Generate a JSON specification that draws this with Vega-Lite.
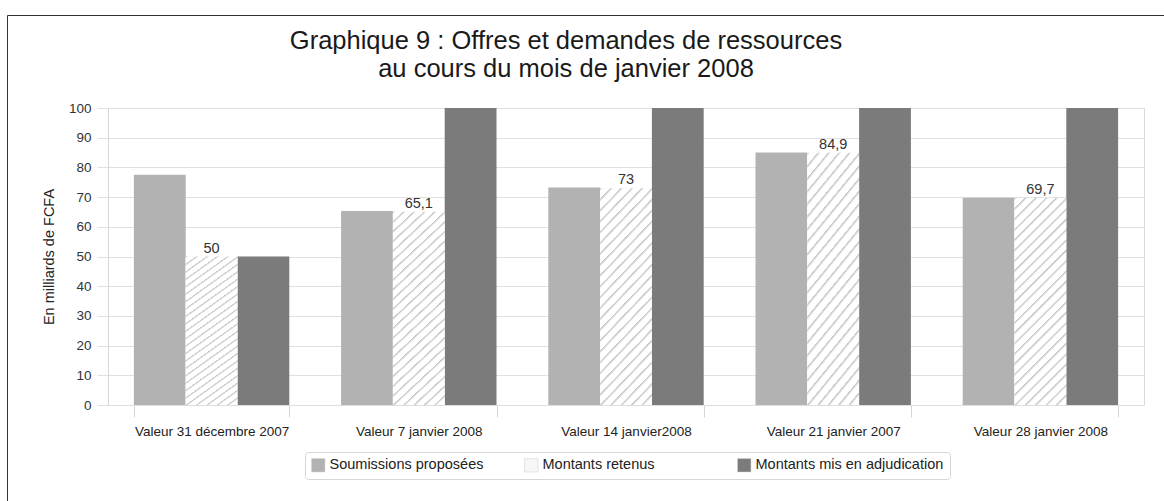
{
  "$schema": "https://vega.github.io/schema/vega-lite/v6.json",
  "width": 1036,
  "height": 297,
  "autosize": {"type": "none"},
  "padding": {"left": 108, "top": 108, "right": 20, "bottom": 96},
  "background": "white",
  "title": {
    "text": ["Graphique 9 : Offres et demandes de ressources", "au cours du mois de janvier 2008"],
    "fontSize": 25.5,
    "fontWeight": "normal",
    "font": "Liberation Sans",
    "color": "#1a1a1a",
    "anchor": "middle",
    "dx": -60,
    "dy": 86,
    "offset": 18,
    "lineHeight": 28
  },
  "data": {
    "values": [
      {"date": "Valeur 31 décembre 2007", "serie": "Soumissions proposées", "valeur": 77.5},
      {"date": "Valeur 31 décembre 2007", "serie": "Montants retenus", "valeur": 50},
      {"date": "Valeur 31 décembre 2007", "serie": "Montants mis en adjudication", "valeur": 50},
      {"date": "Valeur 7 janvier 2008", "serie": "Soumissions proposées", "valeur": 65.3},
      {"date": "Valeur 7 janvier 2008", "serie": "Montants retenus", "valeur": 65.1},
      {"date": "Valeur 7 janvier 2008", "serie": "Montants mis en adjudication", "valeur": 100},
      {"date": "Valeur 14 janvier2008", "serie": "Soumissions proposées", "valeur": 73.2},
      {"date": "Valeur 14 janvier2008", "serie": "Montants retenus", "valeur": 73},
      {"date": "Valeur 14 janvier2008", "serie": "Montants mis en adjudication", "valeur": 100},
      {"date": "Valeur 21 janvier 2007", "serie": "Soumissions proposées", "valeur": 85},
      {"date": "Valeur 21 janvier 2007", "serie": "Montants retenus", "valeur": 84.9},
      {"date": "Valeur 21 janvier 2007", "serie": "Montants mis en adjudication", "valeur": 100},
      {"date": "Valeur 28 janvier 2008", "serie": "Soumissions proposées", "valeur": 69.8},
      {"date": "Valeur 28 janvier 2008", "serie": "Montants retenus", "valeur": 69.7},
      {"date": "Valeur 28 janvier 2008", "serie": "Montants mis en adjudication", "valeur": 100}
    ]
  },
  "encoding": {
    "x": {
      "field": "date",
      "type": "nominal",
      "sort": null,
      "scale": {"paddingInner": 0.25, "paddingOuter": 0.125},
      "axis": {
        "title": null,
        "labelAngle": 0,
        "tickBand": "extent",
        "tickSize": 12,
        "tickColor": "#d6d6d6",
        "domainColor": "#dedede",
        "labelFontSize": 13.5,
        "labelPadding": 7,
        "labelColor": "#222"
      }
    },
    "xOffset": {
      "field": "serie",
      "type": "nominal",
      "sort": ["Soumissions proposées", "Montants retenus", "Montants mis en adjudication"],
      "scale": {"paddingInner": 0, "paddingOuter": 0}
    },
    "y": {
      "field": "valeur",
      "type": "quantitative",
      "scale": {"domain": [0, 100], "clamp": true},
      "axis": {
        "title": "En milliards de FCFA",
        "values": [0, 10, 20, 30, 40, 50, 60, 70, 80, 90, 100],
        "grid": true,
        "gridColor": "#e0e0e0",
        "tickColor": "#e0e0e0",
        "tickSize": 11,
        "domainColor": "#d6d6d6",
        "labelFontSize": 13.5,
        "labelColor": "#333",
        "labelPadding": 6,
        "titleFontSize": 14.5,
        "titleFontWeight": "normal",
        "titleColor": "#222",
        "titlePadding": 12
      }
    }
  },
  "layer": [
    {
      "mark": {"type": "bar"},
      "encoding": {
        "color": {
          "field": "serie",
          "type": "nominal",
          "sort": ["Soumissions proposées", "Montants retenus", "Montants mis en adjudication"],
          "scale": {
            "domain": ["Soumissions proposées", "Montants retenus", "Montants mis en adjudication"],
            "range": ["#b2b2b2", "#f7f7f7", "#7b7b7b"]
          },
          "legend": {
            "orient": "none",
            "legendX": 197,
            "legendY": 344,
            "direction": "horizontal",
            "columns": 3,
            "gridAlign": "all",
            "title": null,
            "symbolType": "square",
            "symbolSize": 180,
            "symbolStrokeColor": "#d0d0d0",
            "symbolStrokeWidth": 0.5,
            "labelFontSize": 14.5,
            "labelLimit": 400,
            "labelColor": "#222",
            "labelOffset": 4,
            "columnPadding": 5,
            "padding": 6,
            "strokeColor": "#d6d6d6",
            "fillColor": "white",
            "cornerRadius": 3
          }
        }
      }
    },
    {
      "transform": [{"filter": "datum.serie === 'Montants retenus'"}],
      "mark": {
        "type": "bar",
        "fill": {
          "gradient": "linear",
          "x1": 0, "y1": 0, "x2": 0.294, "y2": 1.176,
          "stops": [
            {"offset": 0, "color": "#c0c0c0"}, {"offset": 0.012, "color": "#ffffff"}, {"offset": 0.038, "color": "#ffffff"},
            {"offset": 0.04, "color": "#c0c0c0"}, {"offset": 0.052, "color": "#ffffff"}, {"offset": 0.078, "color": "#ffffff"},
            {"offset": 0.08, "color": "#c0c0c0"}, {"offset": 0.092, "color": "#ffffff"}, {"offset": 0.118, "color": "#ffffff"},
            {"offset": 0.12, "color": "#c0c0c0"}, {"offset": 0.132, "color": "#ffffff"}, {"offset": 0.158, "color": "#ffffff"},
            {"offset": 0.16, "color": "#c0c0c0"}, {"offset": 0.172, "color": "#ffffff"}, {"offset": 0.198, "color": "#ffffff"},
            {"offset": 0.2, "color": "#c0c0c0"}, {"offset": 0.212, "color": "#ffffff"}, {"offset": 0.238, "color": "#ffffff"},
            {"offset": 0.24, "color": "#c0c0c0"}, {"offset": 0.252, "color": "#ffffff"}, {"offset": 0.278, "color": "#ffffff"},
            {"offset": 0.28, "color": "#c0c0c0"}, {"offset": 0.292, "color": "#ffffff"}, {"offset": 0.318, "color": "#ffffff"},
            {"offset": 0.32, "color": "#c0c0c0"}, {"offset": 0.332, "color": "#ffffff"}, {"offset": 0.358, "color": "#ffffff"},
            {"offset": 0.36, "color": "#c0c0c0"}, {"offset": 0.372, "color": "#ffffff"}, {"offset": 0.398, "color": "#ffffff"},
            {"offset": 0.4, "color": "#c0c0c0"}, {"offset": 0.412, "color": "#ffffff"}, {"offset": 0.438, "color": "#ffffff"},
            {"offset": 0.44, "color": "#c0c0c0"}, {"offset": 0.452, "color": "#ffffff"}, {"offset": 0.478, "color": "#ffffff"},
            {"offset": 0.48, "color": "#c0c0c0"}, {"offset": 0.492, "color": "#ffffff"}, {"offset": 0.518, "color": "#ffffff"},
            {"offset": 0.52, "color": "#c0c0c0"}, {"offset": 0.532, "color": "#ffffff"}, {"offset": 0.558, "color": "#ffffff"},
            {"offset": 0.56, "color": "#c0c0c0"}, {"offset": 0.572, "color": "#ffffff"}, {"offset": 0.598, "color": "#ffffff"},
            {"offset": 0.6, "color": "#c0c0c0"}, {"offset": 0.612, "color": "#ffffff"}, {"offset": 0.638, "color": "#ffffff"},
            {"offset": 0.64, "color": "#c0c0c0"}, {"offset": 0.652, "color": "#ffffff"}, {"offset": 0.678, "color": "#ffffff"},
            {"offset": 0.68, "color": "#c0c0c0"}, {"offset": 0.692, "color": "#ffffff"}, {"offset": 0.718, "color": "#ffffff"},
            {"offset": 0.72, "color": "#c0c0c0"}, {"offset": 0.732, "color": "#ffffff"}, {"offset": 0.758, "color": "#ffffff"},
            {"offset": 0.76, "color": "#c0c0c0"}, {"offset": 0.772, "color": "#ffffff"}, {"offset": 0.798, "color": "#ffffff"},
            {"offset": 0.8, "color": "#c0c0c0"}, {"offset": 0.812, "color": "#ffffff"}, {"offset": 0.838, "color": "#ffffff"},
            {"offset": 0.84, "color": "#c0c0c0"}, {"offset": 0.852, "color": "#ffffff"}, {"offset": 0.878, "color": "#ffffff"},
            {"offset": 0.88, "color": "#c0c0c0"}, {"offset": 0.892, "color": "#ffffff"}, {"offset": 0.918, "color": "#ffffff"},
            {"offset": 0.92, "color": "#c0c0c0"}, {"offset": 0.932, "color": "#ffffff"}, {"offset": 0.958, "color": "#ffffff"},
            {"offset": 0.96, "color": "#c0c0c0"}, {"offset": 0.972, "color": "#ffffff"}, {"offset": 1, "color": "#ffffff"}
          ]
        }
      }
    },
    {
      "transform": [{"filter": "datum.serie === 'Montants retenus'"}],
      "mark": {"type": "text", "dy": -4, "fontSize": 14.5, "color": "#333", "baseline": "alphabetic"},
      "encoding": {
        "text": {"field": "valeur", "type": "quantitative", "format": ".1~f"},
        "opacity": {
          "field": "date",
          "type": "nominal",
          "scale": {"range": [1]},
          "legend": {
            "orient": "none",
            "legendX": -101,
            "legendY": -93,
            "title": null,
            "symbolOpacity": 0,
            "labelOpacity": 0,
            "labelExpr": "''",
            "symbolSize": 1,
            "labelFontSize": 1,
            "padding": 700,
            "strokeColor": "#333333",
            "fillColor": "transparent",
            "cornerRadius": 0,
            "encode": {
              "legend": {
                "enter": {"strokeWidth": {"value": 2}},
                "update": {"strokeWidth": {"value": 2}}
              }
            }
          }
        }
      }
    }
  ],
  "config": {
    "font": "Liberation Sans",
    "view": {"stroke": "#d9d9d9"},
    "locale": {
      "number": {"decimal": ",", "thousands": " ", "grouping": [3], "currency": ["", " FCFA"]}
    }
  }
}
